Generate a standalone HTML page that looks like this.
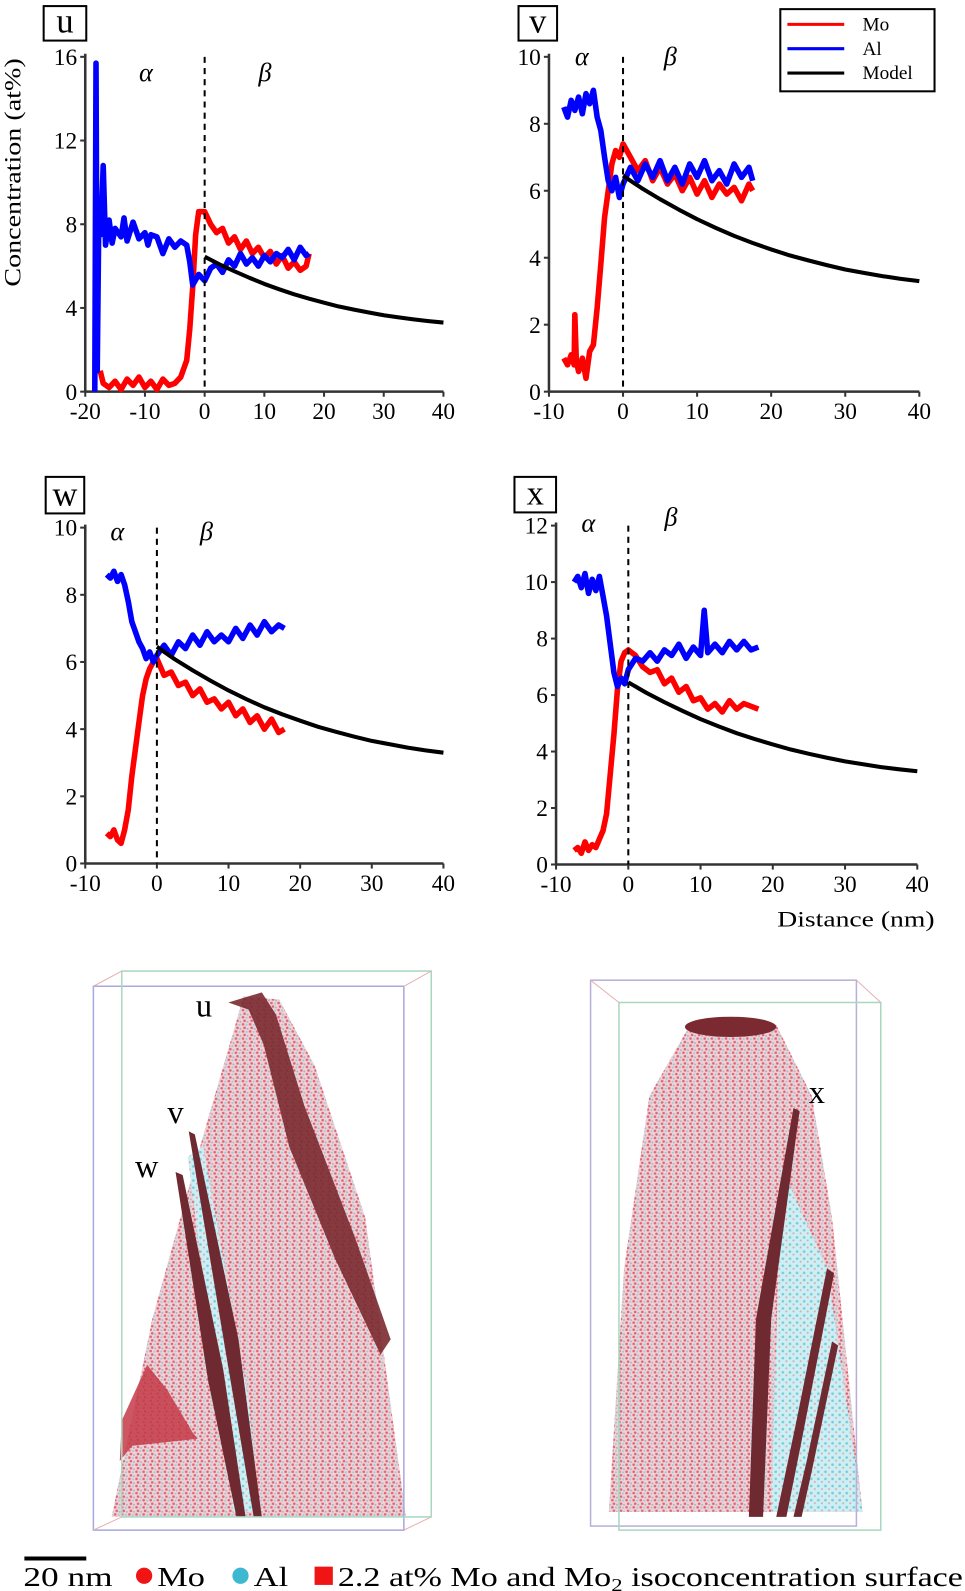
<!DOCTYPE html>
<html><head><meta charset="utf-8"><style>
html,body{margin:0;padding:0;background:#fff;}
svg{display:block;font-family:"Liberation Serif",serif;}
</style></head><body>
<svg id="fig" width="965" height="1591" viewBox="0 0 951 1568" xmlns="http://www.w3.org/2000/svg">
<defs>
<pattern id="atoms" width="7" height="7" patternUnits="userSpaceOnUse">
<rect width="7" height="7" fill="#efd2d8"/>
<circle cx="1.5" cy="1.5" r="1.3" fill="#e04a5c" opacity="0.8"/>
<circle cx="5" cy="2" r="1" fill="#70c8d4" opacity="0.7"/>
<circle cx="3" cy="5" r="1.3" fill="#d03a4c" opacity="0.7"/>
<circle cx="6" cy="6" r="1" fill="#8a9aa8" opacity="0.6"/>
</pattern>
<pattern id="atomsC" width="7" height="7" patternUnits="userSpaceOnUse">
<rect width="7" height="7" fill="#cdeef3"/>
<circle cx="1.5" cy="1.5" r="1.3" fill="#5cc4d4" opacity="0.8"/>
<circle cx="5" cy="4.5" r="1" fill="#e07a86" opacity="0.6"/>
</pattern>
</defs>
<g id="charts"></g>

<g>
<rect x="769" y="9" width="152" height="81" fill="#fff" stroke="#000" stroke-width="2"/>
<line x1="776" y1="24" x2="832" y2="24" stroke="#f00" stroke-width="3"/>
<text x="850" y="30" font-size="19">Mo</text>
<line x1="776" y1="48" x2="832" y2="48" stroke="#00f" stroke-width="3"/>
<text x="850" y="54" font-size="19">Al</text>
<line x1="776" y1="72" x2="832" y2="72" stroke="#000" stroke-width="3"/>
<text x="850" y="78" font-size="19">Model</text>
</g>
<text x="766" y="913" font-size="22" textLength="155" lengthAdjust="spacingAndGlyphs">Distance (nm)</text>
<text transform="translate(20,170) rotate(-90)" font-size="23" text-anchor="middle" textLength="225" lengthAdjust="spacingAndGlyphs">Concentration (at%)</text>

<g>
<polygon points="240,982 275,985 310,1050 360,1200 400,1495 110,1495 150,1300 200,1120" fill="url(#atoms)"/>
<polygon points="185,1140 200,1130 245,1380 255,1490 230,1490" fill="url(#atomsC)"/>
<polygon points="225,988 258,978 272,1000 300,1090 350,1220 385,1320 375,1335 330,1240 285,1130 260,1030 245,995" fill="#7a2a30" opacity="0.9"/>
<polygon points="186,1115 192,1118 235,1320 258,1495 250,1495 222,1330" fill="#6e2a30"/>
<polygon points="173,1155 180,1158 220,1350 242,1495 233,1495 205,1360" fill="#6e2a30"/>
<polygon points="120,1400 145,1345 165,1370 190,1412 195,1418 130,1425 118,1440" fill="#c43a48" opacity="0.85"/>
<rect x="92" y="972" width="306" height="536" fill="none" stroke="#a9a8e0" stroke-width="1.5"/>
<rect x="120" y="957" width="305" height="538" fill="none" stroke="#a8d8c0" stroke-width="1.5"/>
<line x1="92" y1="972" x2="120" y2="957" stroke="#e8b0b0"/>
<line x1="398" y1="972" x2="425" y2="957" stroke="#e8b0b0"/>
<line x1="92" y1="1508" x2="120" y2="1495" stroke="#e8b0b0"/>
<line x1="398" y1="1508" x2="425" y2="1495" stroke="#e8b0b0"/>
<text x="193" y="1002" font-size="32">u</text>
<text x="165" y="1107" font-size="32">v</text>
<text x="133" y="1160" font-size="32">w</text>
</g>
<g>
<polygon points="680,1010 765,1010 800,1080 820,1200 850,1490 600,1490 615,1250 640,1080" fill="url(#atoms)"/>
<polygon points="770,1150 815,1250 850,1490 760,1490" fill="url(#atomsC)"/>
<ellipse cx="720" cy="1012" rx="45" ry="10" fill="#7a2a30"/>
<polygon points="782,1092 788,1095 760,1300 752,1495 738,1495 745,1300" fill="#6e2a30"/>
<polygon points="815,1250 822,1255 790,1420 775,1495 765,1495 785,1400" fill="#6e2a30"/>
<polygon points="820,1322 826,1326 800,1450 790,1495 782,1495 795,1440" fill="#6e2a30"/>
<rect x="582" y="966" width="262" height="538" fill="none" stroke="#b8b0d8" stroke-width="1.5"/>
<rect x="610" y="988" width="258" height="520" fill="none" stroke="#a8d8c0" stroke-width="1.5"/>
<line x1="582" y1="966" x2="610" y2="988" stroke="#e8b0b0"/>
<line x1="844" y1="966" x2="868" y2="988" stroke="#e8b0b0"/>
<text x="797" y="1087" font-size="32">x</text>
</g>
<g>
<line x1="24" y1="1536" x2="85" y2="1536" stroke="#000" stroke-width="4"/>
<text x="23" y="1563" font-size="27" textLength="88" lengthAdjust="spacingAndGlyphs">20 nm</text>
<circle cx="142" cy="1553" r="8" fill="#f01414"/>
<text x="155" y="1563" font-size="27" textLength="47" lengthAdjust="spacingAndGlyphs">Mo</text>
<circle cx="237" cy="1553" r="8" fill="#3cb8d0"/>
<text x="250" y="1563" font-size="27" textLength="34" lengthAdjust="spacingAndGlyphs">Al</text>
<rect x="310" y="1544" width="18" height="18" fill="#f01414"/>
<text x="333" y="1563" font-size="27" textLength="616" lengthAdjust="spacingAndGlyphs">2.2 at% Mo and Mo<tspan font-size="18" dy="5">2</tspan><tspan dy="-5"> isoconcentration surface</tspan></text>
</g>
</svg>
<script>
const modelX=[0,2.5,5,7.5,10,12.5,15,17.5,20,22.5,25,27.5,30,32.5,35,37.5,40];
const modelY=[6.45,6.08,5.75,5.44,5.15,4.89,4.65,4.44,4.25,4.07,3.92,3.78,3.65,3.55,3.45,3.37,3.3];
const uAl=[[-18.4,0],[-18.2,15.7],[-18,1],[-17.7,9],[-17.4,7.5],[-17,10.8],[-16.6,7],[-16,8.2],[-15.5,7.1],[-15,7.8],[-14,7.4],[-13.5,8.3],[-13,7.2],[-12,8.1],[-11,7.3],[-10,7.6],[-9.5,7.0],[-9,7.5],[-8,7.4],[-7,6.6],[-6,7.3],[-5,6.9],[-4,7.2],[-3,7.0],[-2.5,6.2],[-2,5.1],[-1,5.6],[0,5.3],[1,5.9],[2,6.1],[3,5.7],[4,6.3],[5,6.0],[6,6.6],[7,6.1],[8,6.4],[9,6.0],[10,6.5],[11,6.2],[12,6.6],[13,6.4],[14,6.8],[15,6.3],[16,6.9],[17,6.5],[17.5,6.6]];
const uMo=[[-17.5,1],[-17,0.4],[-16,0.2],[-15,0.5],[-14,0.1],[-13,0.6],[-12,0.3],[-11,0.7],[-10,0.2],[-9,0.5],[-8,0.1],[-7,0.6],[-6,0.3],[-5,0.4],[-4,0.7],[-3,1.5],[-2.5,3],[-2,5],[-1.5,7.5],[-1,8.6],[0,8.6],[1,8.0],[2,7.6],[3,7.8],[4,7.1],[5,7.4],[6,6.8],[7,7.2],[8,6.6],[9,6.9],[10,6.4],[11,6.7],[12,6.1],[13,6.5],[14,5.9],[15,6.2],[16,5.8],[17,6.0],[17.5,6.6]];
const vAl=[[-8,8.5],[-7.5,8.2],[-7,8.7],[-6.5,8.4],[-6,8.8],[-5.5,8.3],[-5,8.9],[-4.5,8.6],[-4,9.0],[-3.5,8.2],[-3,7.8],[-2.5,7.0],[-2,6.3],[-1.5,6.0],[-1,6.4],[-0.5,5.8],[0,6.2],[1,6.7],[2,6.3],[3,6.8],[4,6.4],[5,6.9],[6,6.3],[7,6.7],[8,6.2],[9,6.8],[10,6.4],[11,6.9],[12,6.3],[13,6.6],[14,6.2],[15,6.8],[16,6.4],[17,6.7],[17.5,6.3]];
const vMo=[[-8,1.0],[-7.5,0.8],[-7,1.1],[-6.6,0.8],[-6.5,2.3],[-6.3,0.9],[-6,0.6],[-5.5,1.0],[-5,0.4],[-4.5,1.2],[-4,1.4],[-3.5,2.5],[-3,3.8],[-2.5,5.2],[-2,6.0],[-1.5,6.8],[-1,7.2],[-0.5,7.0],[0,7.4],[1,7.0],[2,6.6],[3,6.9],[4,6.3],[5,6.7],[6,6.2],[7,6.5],[8,6.0],[9,6.4],[10,5.9],[11,6.3],[12,5.8],[13,6.2],[14,5.9],[15,6.1],[16,5.7],[17,6.2],[17.5,6.0]];
const wAl=[[-7,8.6],[-6.5,8.5],[-6,8.7],[-5.5,8.4],[-5,8.6],[-4.5,8.3],[-4,7.8],[-3.5,7.2],[-3,6.9],[-2.5,6.6],[-2,6.4],[-1.5,6.1],[-1,6.3],[-0.5,6.0],[0,6.2],[1,6.5],[2,6.2],[3,6.6],[4,6.4],[5,6.8],[6,6.5],[7,6.9],[8,6.6],[9,6.8],[10,6.6],[11,7.0],[12,6.7],[13,7.1],[14,6.8],[15,7.2],[16,6.9],[17,7.1],[17.8,7.0]];
const wMo=[[-7,0.9],[-6.5,0.8],[-6,1.0],[-5.5,0.7],[-5,0.6],[-4.5,1.0],[-4,1.6],[-3.5,2.6],[-3,3.4],[-2.5,4.2],[-2,5.0],[-1.5,5.5],[-1,5.8],[-0.5,6.0],[0,6.1],[1,5.6],[2,5.7],[3,5.3],[4,5.4],[5,5.0],[6,5.2],[7,4.8],[8,4.9],[9,4.6],[10,4.8],[11,4.4],[12,4.6],[13,4.2],[14,4.4],[15,4.0],[16,4.3],[17,3.9],[17.8,4.0]];
const xAl=[[-7.5,10],[-7,10.2],[-6.5,9.8],[-6,10.3],[-5.5,9.6],[-5,10.1],[-4.5,9.7],[-4,10.2],[-3.5,9.5],[-3,8.8],[-2.5,7.8],[-2,6.8],[-1.5,6.3],[-1,6.6],[-0.5,6.4],[0,6.9],[1,7.3],[2,7.2],[3,7.5],[4,7.2],[5,7.6],[6,7.4],[7,7.8],[8,7.3],[9,7.7],[10,7.4],[10.5,9.0],[11,7.5],[12,7.8],[13,7.5],[14,7.9],[15,7.6],[16,7.9],[17,7.6],[18,7.7]];
const xMo=[[-7.5,0.5],[-7,0.6],[-6.5,0.4],[-6,0.8],[-5.5,0.5],[-5,0.7],[-4.5,0.6],[-4,0.9],[-3.5,1.2],[-3,1.8],[-2.5,3.2],[-2,4.6],[-1.5,6.2],[-1,7.2],[-0.5,7.5],[0,7.6],[1,7.4],[2,7.0],[3,6.8],[4,6.9],[5,6.4],[6,6.6],[7,6.1],[8,6.3],[9,5.8],[10,5.9],[11,5.5],[12,5.7],[13,5.4],[14,5.8],[15,5.5],[16,5.7],[17,5.6],[18,5.5]];
const uXTicks=[-20,-10,0,10,20,30,40];
const uYTicks=[0,4,8,12,16];
const vwXTicks=[-10,0,10,20,30,40];
const vwYTicks=[0,2,4,6,8,10];
const xYTicks=[0,2,4,6,8,10,12];

const NS="http://www.w3.org/2000/svg";
const root=document.getElementById('charts');
function mk(tag,attrs,parent){const e=document.createElementNS(NS,tag);for(const k in attrs)e.setAttribute(k,attrs[k]);(parent||root).appendChild(e);return e;}

function panel(p){
  const g=mk('g',{});
  
  
  const sx=v=>p.x0+(v-p.xmin)/(p.xmax-p.xmin)*(p.x1-p.x0);
  const sy=v=>p.y0-(v-p.ymin)/(p.ymax-p.ymin)*(p.y0-p.y1);
  const ya=mk('line',{x1:p.x0,y1:p.y0,x2:p.x0,y2:sy(p.ymax)-3,stroke:'#333','stroke-width':2.5},g);
  
  
  const xa=mk('line',{x1:p.x0,y1:p.y0,x2:sx(p.xmax),y2:p.y0,stroke:'#333','stroke-width':2.5},g);
  
  
  p.xt.forEach(t=>{mk('line',{x1:sx(t),y1:p.y0,x2:sx(t),y2:p.y0+5,stroke:'#333','stroke-width':2},g);
    const tx=mk('text',{x:sx(t),y:p.y0+27,'font-size':23,'text-anchor':'middle'},g);tx.textContent=t;
    
    });
  p.yt.forEach(t=>{mk('line',{x1:p.x0-5,y1:sy(t),x2:p.x0,y2:sy(t),stroke:'#333','stroke-width':2},g);
    const tx=mk('text',{x:p.x0-8,y:sy(t)+8,'font-size':23,'text-anchor':'end'},g);tx.textContent=t;
    
    });
  const path=(arr,col,w,name)=>{const e=mk('polyline',{points:arr.map(d=>sx(d[0]).toFixed(1)+','+sy(d[1]).toFixed(1)).join(' '),fill:'none',stroke:col,'stroke-width':w,'stroke-linejoin':'round'},g);
    
    };
  path(p.mo,'#f00',5.5,'mo-series');
  path(p.al,'#00f',5.5,'al-series');
  path(modelX.map((x,i)=>[x,modelY[i]]),'#000',4,'model-curve');
  const dl=mk('line',{x1:sx(0),y1:sy(p.ymax),x2:sx(0),y2:p.y0,stroke:'#000','stroke-width':2,'stroke-dasharray':'6,5'},g);
  
  
  const a=mk('text',{x:sx(p.ax),y:p.gy,'font-size':26,'font-style':'italic'},g);a.textContent='α';
  
  
  const b=mk('text',{x:sx(p.bx),y:p.by,'font-size':26,'font-style':'italic'},g);b.textContent='β';
  
  
  mk('rect',{x:p.bxr[0],y:p.bxr[1],width:p.bxr[2],height:p.bxr[3],fill:'#fff',stroke:'#000','stroke-width':2},g);
  const l=mk('text',{x:p.bxr[0]+p.bxr[2]/2,y:p.bxr[1]+p.bxr[3]-8,'font-size':34,'text-anchor':'middle'},g);l.textContent=p.id;
  
  
}
panel({id:'u',x0:84,x1:437,y0:386,y1:56,xmin:-20,xmax:40,ymin:0,ymax:16,xt:uXTicks,yt:uYTicks,mo:uMo,al:uAl,ax:-11,gy:80,bx:9,by:80,bxr:[43,6,42,34]});
panel({id:'v',x0:541,x1:906,y0:386,y1:56,xmin:-10,xmax:40,ymin:0,ymax:10,xt:vwXTicks,yt:vwYTicks,mo:vMo,al:vAl,ax:-6.5,gy:64,bx:5.5,by:64,bxr:[511,6,38,34]});
panel({id:'w',x0:84,x1:437,y0:851,y1:520,xmin:-10,xmax:40,ymin:0,ymax:10,xt:vwXTicks,yt:vwYTicks,mo:wMo,al:wAl,ax:-6.5,gy:532,bx:6,by:532,bxr:[45,470,38,36]});
panel({id:'x',x0:548,x1:904,y0:852,y1:518,xmin:-10,xmax:40,ymin:0,ymax:12,xt:vwXTicks,yt:xYTicks,mo:xMo,al:xAl,ax:-6.5,gy:524,bx:5,by:518,bxr:[507,470,41,35]});
</script>
</body></html>
